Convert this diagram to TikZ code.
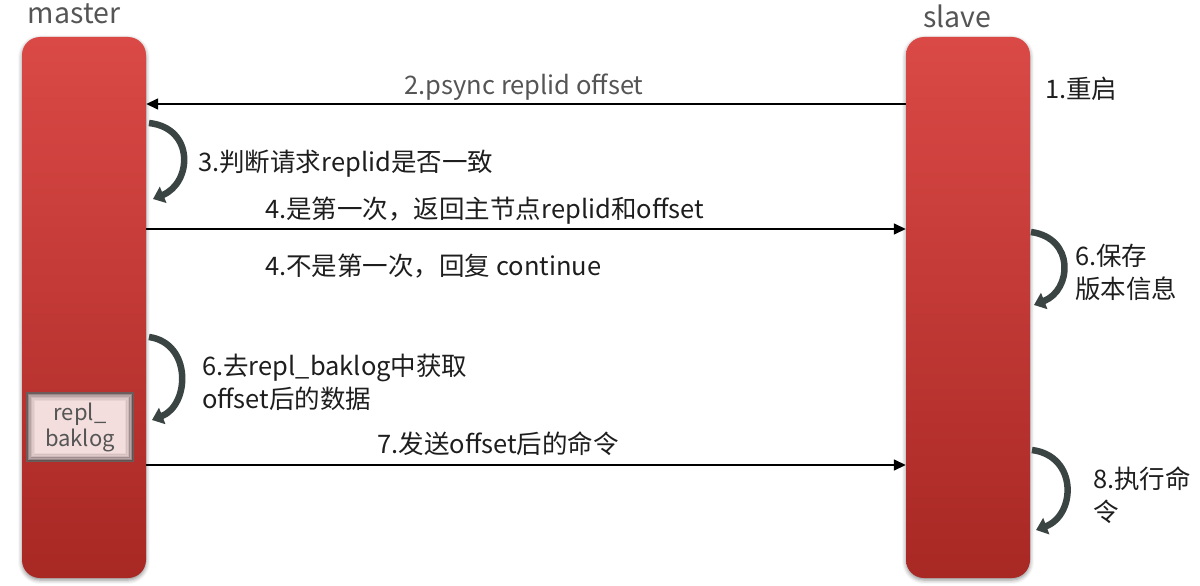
\documentclass[tikz,border=0pt]{standalone}
\usepackage{fontspec}
\setmainfont{Noto Sans CJK SC}
\usetikzlibrary{arrows.meta,shadows.blur}
\definecolor{bartop}{RGB}{218,73,70}
\definecolor{barbot}{RGB}{168,40,36}
\definecolor{curv}{RGB}{58,68,66}
\definecolor{lbl}{RGB}{85,85,85}
\definecolor{txt}{RGB}{30,30,30}
\definecolor{replfill}{RGB}{243,221,221}
\definecolor{repledge}{RGB}{95,78,78}
\begin{document}
\begin{tikzpicture}[x=1pt,y=-1pt,
  bar/.style={rounded corners=18pt, top color=bartop, bottom color=barbot, draw=none,
    minimum width=124pt, minimum height=541pt, inner sep=0pt,
    blur shadow={shadow xshift=0pt,shadow yshift=-2pt,shadow blur radius=4pt,shadow opacity=45}},
  actor/.style={text=lbl, font=\fontsize{28.5}{32}\selectfont},
  lab/.style={text=txt, font=\fontsize{25.5}{33}\selectfont, inner sep=0pt, align=left},
  msg/.style={draw=black, line width=1.5pt, -{Triangle[length=12pt,width=11pt]}},
  selfarrow/.style={draw=curv, line width=6.5pt, -{Triangle[length=11pt,width=17pt]}},
  replbox/.style={fill=replfill, draw=none, minimum width=108pt, minimum height=70pt, inner sep=0pt,
    text=lbl, font=\fontsize{22}{26}\selectfont, align=center}
]
\useasboundingbox (0,0) rectangle (1200,586);

% lifelines
\node[bar] (master) at (84,307.5) {};
\node[bar] (slave) at (968,307.5) {};
\node[actor] (mlabel) at (74,14) {master};
\node[actor] (slabel) at (957,16) {slave};

% repl_baklog box with inner shadow
\node[replbox] (repl) at (80,427) {};
\foreach \w/\o in {1/0.9,2.5/0.6,4/0.4,5.5/0.25,7/0.14,8.5/0.07}{
  \draw[repledge, line width=1.6pt, draw opacity=\o]
    ([xshift=\w pt,yshift=-\w pt]repl.north west) rectangle ([xshift=-\w pt,yshift=\w pt]repl.south east);
}
\node[replbox, fill=none] (repltext) at (repl.center) {repl\_\\baklog};

% 1
\node[lab, anchor=west] (l1) at (1045,89) {1.重启};

% 2
\draw[msg] (slave.west |- 0,104) -- (master.east |- 0,104);
\node[lab, text=lbl] (l2) at (524,87) {2.psync replid offset};

% 3
\coordinate (c3a) at (149,123);
\coordinate (c3b) at (153,199);
\draw[selfarrow] (c3a) .. controls (195,128) and (192,183) .. (c3b);
\node[lab, anchor=west] (l3) at (198,164) {3.判断请求replid是否一致};

% 4
\draw[msg] (master.east |- 0,229) -- (slave.west |- 0,229);
\node[lab, anchor=west] (l4a) at (265,211) {4.是第一次，返回主节点replid和offset};
\node[lab, anchor=west] (l4b) at (265,266) {4.不是第一次，回复 continue};

% 6 slave
\coordinate (c6a) at (1031,232);
\coordinate (c6b) at (1034,305);
\draw[selfarrow] (c6a) .. controls (1075,238) and (1072,290) .. (c6b);
\node[lab, anchor=west] (l6s) at (1075,272) {6.保存\\版本信息};

% 6 master
\coordinate (c6c) at (149,337);
\coordinate (c6d) at (152,420);
\draw[selfarrow] (c6c) .. controls (192,343) and (190,405) .. (c6d);
\node[lab, anchor=west] (l6m) at (202,382) {6.去repl\_baklog中获取\\offset后的数据};

% 7
\draw[msg] (master.east |- 0,465) -- (slave.west |- 0,465);
\node[lab] (l7) at (498,444) {7.发送offset后的命令};

% 8
\coordinate (c8a) at (1032,450);
\coordinate (c8b) at (1036,530);
\draw[selfarrow] (c8a) .. controls (1078,456) and (1076,515) .. (c8b);
\node[lab, anchor=west] (l8) at (1093,495) {8.执行命\\令};
\end{tikzpicture}
\end{document}
